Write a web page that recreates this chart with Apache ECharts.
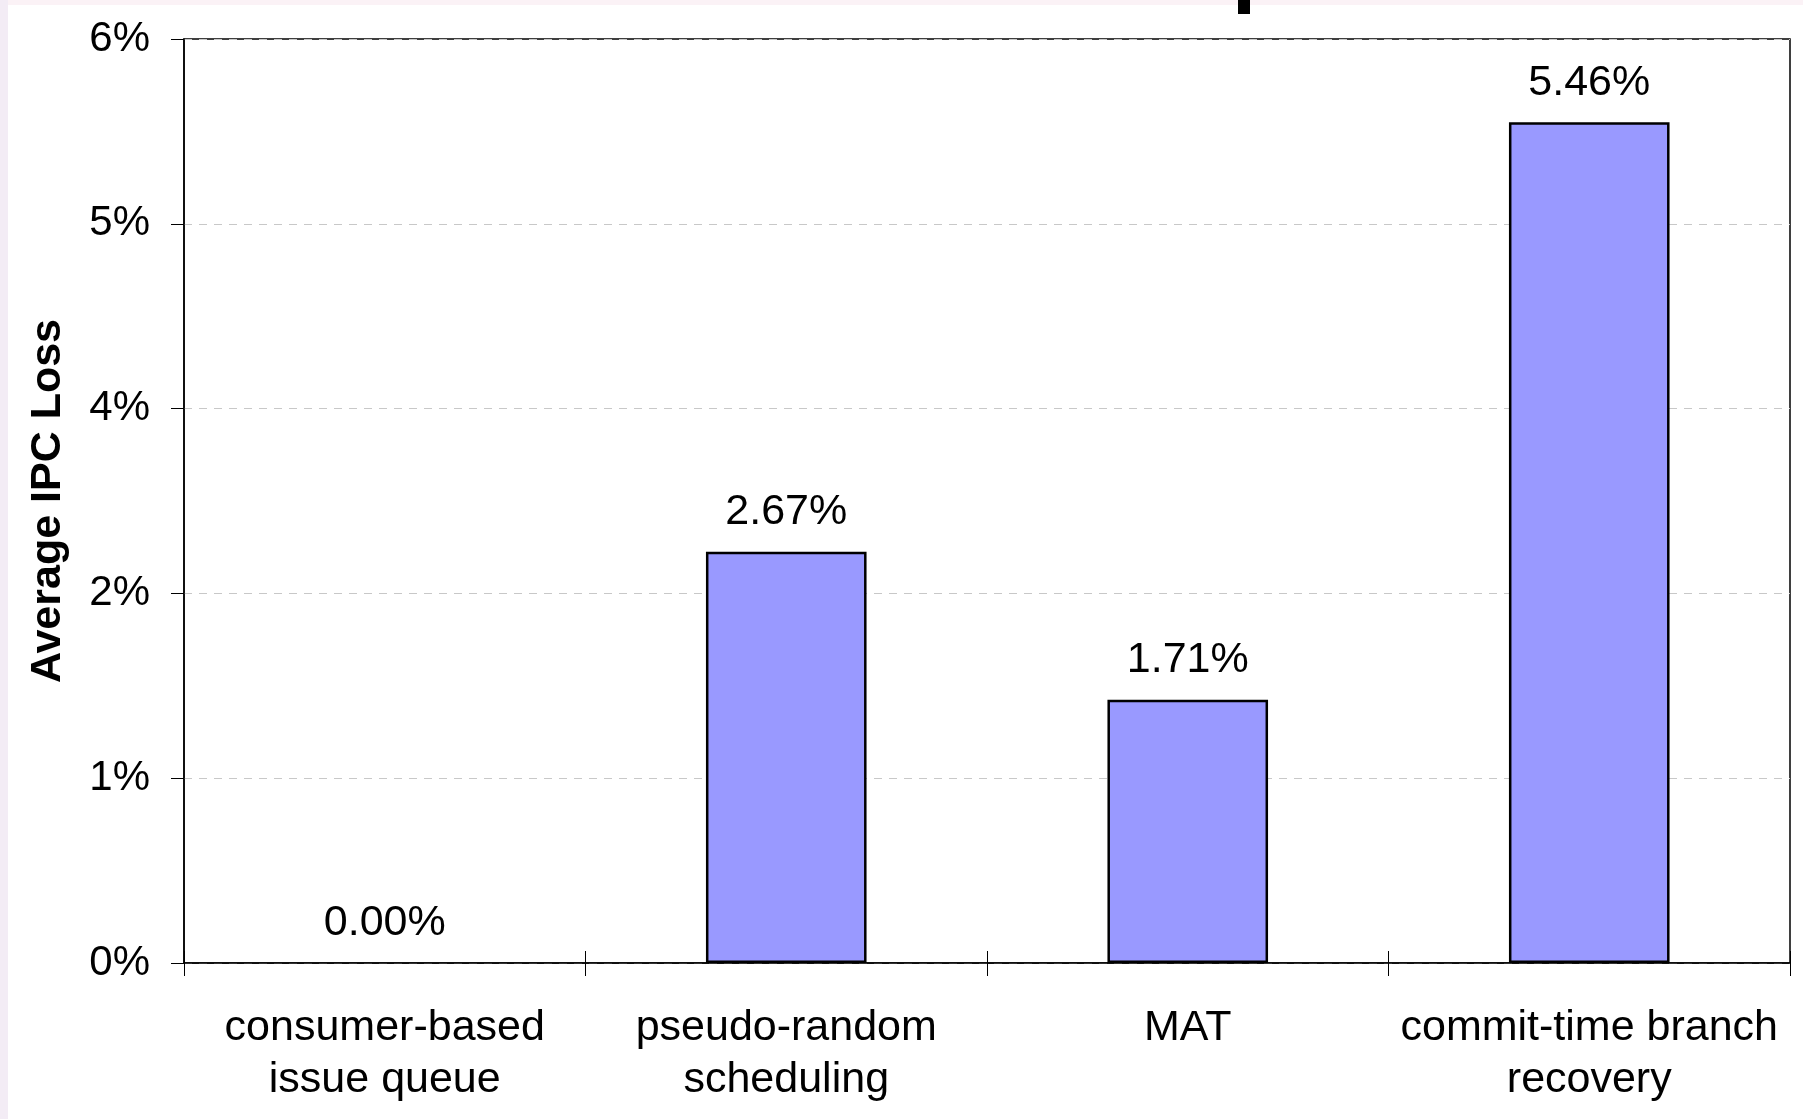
<!DOCTYPE html>
<html>
<head>
<meta charset="utf-8">
<script src="https://cdn.jsdelivr.net/npm/echarts@6/dist/echarts.min.js"></script>
<style>
  html, body { margin: 0; padding: 0; background: #fff; }
  #frame-top { position: absolute; left: 0; top: 0; width: 1803px; height: 5px; background: #fbf2f6; }
  #frame-left { position: absolute; left: 0; top: 0; width: 8px; height: 1119px; background: #f3ecf5; }
  #chart { position: absolute; left: 0; top: 0; width: 1803px; height: 1119px; }
</style>
</head>
<body>
<div id="frame-top"></div>
<div id="frame-left"></div>
<div id="chart"></div>
<script>
  const categories = [
    'consumer-based\nissue queue',
    'pseudo-random\nscheduling',
    'MAT',
    'commit-time branch\nrecovery',
  ]
  const ipcLoss = [0.0, 2.67, 1.71, 5.46]
  const yTicks = [0, 1.2, 2.4, 3.6, 4.8, 6]

  const font = '"Liberation Sans", Arial, sans-serif'

  const myChart = echarts.init(document.getElementById('chart'))

  // a zero bar has no visible outline in the original
  const barData = ipcLoss.map((v) =>
    v === 0 ? { value: v, itemStyle: { borderWidth: 0 } } : v
  )

  const option = {
    backgroundColor: 'transparent',
    animation: false,
    textStyle: { fontFamily: font },
    grid: {
      left: 184,
      right: 13,
      top: 39,
      bottom: 156,
      show: true,
      borderColor: '#000',
      borderWidth: 1.5,
      backgroundColor: 'transparent',
    },
    xAxis: [
      {
        type: 'category',
        data: categories,
        position: 'bottom',
        axisLine: { lineStyle: { color: '#000', width: 1.5 } },
        axisTick: { show: true, interval: 0, length: 13, lineStyle: { color: '#000', width: 1 } },
        axisLabel: {
          interval: 0,
          margin: 39,
          color: '#000',
          fontSize: 43,
          lineHeight: 52,
          fontFamily: font,
        },
      },
      {
        type: 'category',
        data: categories,
        position: 'bottom',
        axisLine: { show: false },
        axisTick: { show: true, inside: true, interval: 0, length: 12, lineStyle: { color: '#000', width: 1 } },
        axisLabel: { show: false },
      },
    ],
    yAxis: {
      type: 'value',
      min: yTicks[0],
      max: yTicks[yTicks.length - 1],
      interval: yTicks[1] - yTicks[0],
      name: 'Average IPC Loss',
      nameLocation: 'middle',
      nameRotate: 90,
      nameGap: 114,
      nameTextStyle: { fontSize: 43, fontWeight: 'bold', color: '#000', fontFamily: font },
      axisLine: { show: true, lineStyle: { color: '#000', width: 1.5 } },
      axisTick: { show: true, length: 13, lineStyle: { color: '#000', width: 1 } },
      axisLabel: {
        margin: 34,
        color: '#000',
        fontSize: 42,
        fontFamily: font,
        formatter: (v) => Math.round(v) + '%',
      },
      splitLine: {
        show: true,
        lineStyle: { color: '#c8c8c8', type: [8, 7], width: 1 },
      },
    },
    series: [
      {
        type: 'bar',
        xAxisIndex: 0,
        data: barData,
        barWidth: '40%',
        itemStyle: { color: '#9999ff', borderColor: '#000', borderWidth: 2.5 },
        label: {
          show: true,
          position: 'top',
          distance: 18,
          color: '#000',
          fontSize: 43,
          fontFamily: font,
          formatter: (p) => p.value.toFixed(2) + '%',
        },
      },
    ],
    graphic: [
      {
        // descender of the cut-off title above the plot
        type: 'rect',
        shape: { x: 1238, y: 0, width: 12, height: 14 },
        style: { fill: '#000' },
      },
    ],
  }

  myChart.setOption(option)
</script>
</body>
</html>
